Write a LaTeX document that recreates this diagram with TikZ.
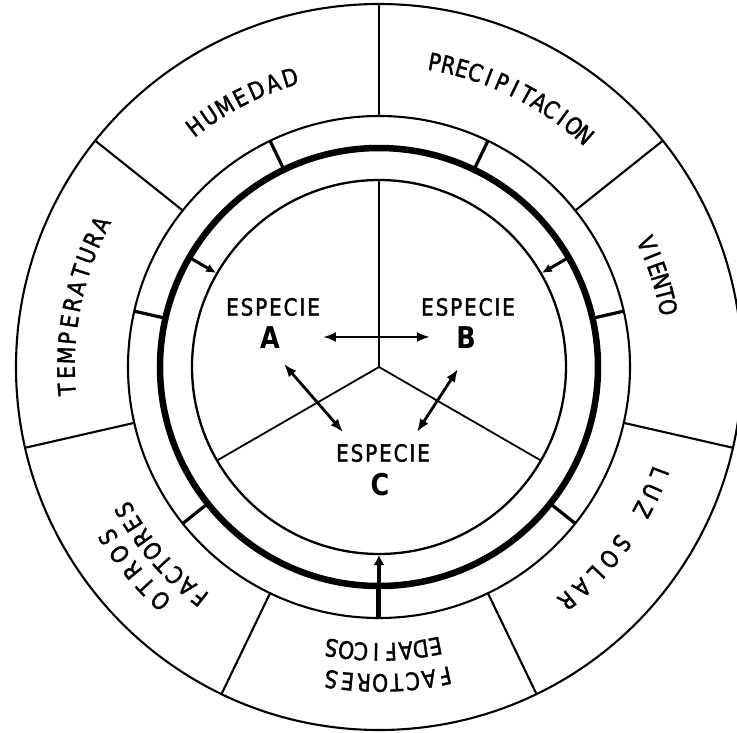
\documentclass[tikz,border=0pt]{standalone}
\usepackage{fontspec}
\setmainfont{DejaVu Sans}
\newfontfamily\lettering[FakeStretch=0.85,LetterSpace=8,FakeBold=1.6]{DejaVu Sans}
\newfontfamily\arcfont[FakeStretch=0.85,FakeBold=1.6]{DejaVu Sans}
\newfontfamily\bigfont[FakeStretch=0.85]{DejaVu Sans Bold}
\usetikzlibrary{arrows.meta}
\newcommand\arctext[6]{% name, centre angle, radius, step, count, letters
  \foreach \ch [count=\i] in {#6} {
    \pgfmathsetmacro\ang{#2+((#5+1)/2-\i)*#4}
    \node[outlbl, rotate=\ang-90] (#1-\i) at (\ang:#3) {\ch};
  }}
\begin{document}
\begin{tikzpicture}[x=1pt,y=1pt,
  thinln/.style={line width=2.1pt},
  thickln/.style={line width=6.5pt},
  innerln/.style={line width=2.3pt},
  yln/.style={line width=1.8pt},
  tickln/.style={line width=3.2pt},
  inarrow/.style={line width=3pt,-{Latex[length=10pt,width=9pt]}},
  dblarrow/.style={line width=2.8pt,{Latex[length=13pt,width=10pt]}-{Latex[length=13pt,width=10pt]}},
  spc/.style={font=\lettering\fontsize{23.5}{27}\selectfont, inner sep=0pt},
  bigl/.style={font=\bigfont\fontsize{30}{33}\selectfont, inner sep=0pt},
  outlbl/.style={font=\arcfont\fontsize{24}{28}\selectfont, inner sep=0pt}]
\useasboundingbox (-379,-365) rectangle (358,367);
\coordinate (O) at (0,0);
% rings
\draw[thinln] (O) circle[radius=363];
\draw[thinln] (O) circle[radius=251];
\draw[thickln] (O) circle[radius=219];
\draw[innerln] (O) circle[radius=187];
% outer dividers and band ticks
\foreach \k in {0,...,6} {
  \pgfmathsetmacro\a{90-\k*360/7}
  \draw[thinln] (\a:251) -- (\a:363);
}
\foreach \b in {115.714,64.286,12.857,-38.571,-141.429,167.143} {
  \draw[tickln] (\b:219) -- (\b:251);
}
\draw[line width=5pt] (-90:219) -- (-90:251);
% inward arrows
\draw[inarrow] (150:219) -- (150:188);
\draw[inarrow] (30:219) -- (30:188);
\draw[line width=4.5pt,-{Latex[length=10pt,width=11pt]}] (-90:219) -- (-90:188);
% inner Y divider
\draw[yln] (O) -- (90:187);
\draw[yln] (O) -- (-30:187);
\draw[yln] (O) -- (210:187);
% species labels
\node[spc] (eA) at (-106,60) {ESPECIE};
\node[bigl] (lA) at (-109,29) {A};
\node[spc] (eB) at (89,60) {ESPECIE};
\node[bigl] (lB) at (87,29) {B};
\node[spc] (eC) at (4,-86) {ESPECIE};
\node[bigl] (lC) at (1,-118) {C};
% interaction arrows
\coordinate (ab1) at (-56,30);
\coordinate (ab2) at (51,30);
\coordinate (ac1) at (-95,3);
\coordinate (ac2) at (-36,-65);
\coordinate (bc1) at (79,-2);
\coordinate (bc2) at (38,-65);
\draw[dblarrow] (ab1) -- (ab2);
\draw[dblarrow] (ac1) -- (ac2);
\draw[dblarrow] (bc1) -- (bc2);
% outer labels
\arctext{hum}{117.25}{303}{3.38}{7}{H,U,M,E,D,A,D}
\arctext{pre}{64.05}{310}{2.6}{13}{P,R,E,C,I,P,I,T,A,C,I,O,N}
\arctext{vie}{18.2}{295}{2.6}{6}{V,I,E,N,T,O}
\arctext{luz}{-24.6}{300}{3.8}{3}{L,U,Z}
\arctext{sol}{-43.6}{300}{3.8}{5}{S,O,L,A,R}
\arctext{fac}{-88.3}{316}{2.97}{8}{F,A,C,T,O,R,E,S}
\arctext{eda}{-89.1}{285}{3.0}{8}{E,D,A,F,I,C,O,S}
\arctext{otr}{-140.5}{320}{3.7}{5}{O,T,R,O,S}
\arctext{ofa}{-139.3}{292}{3.26}{8}{F,A,C,T,O,R,E,S}
\arctext{tem}{168.5}{313}{3.12}{11}{T,E,M,P,E,R,A,T,U,R,A}
\end{tikzpicture}
\end{document}
